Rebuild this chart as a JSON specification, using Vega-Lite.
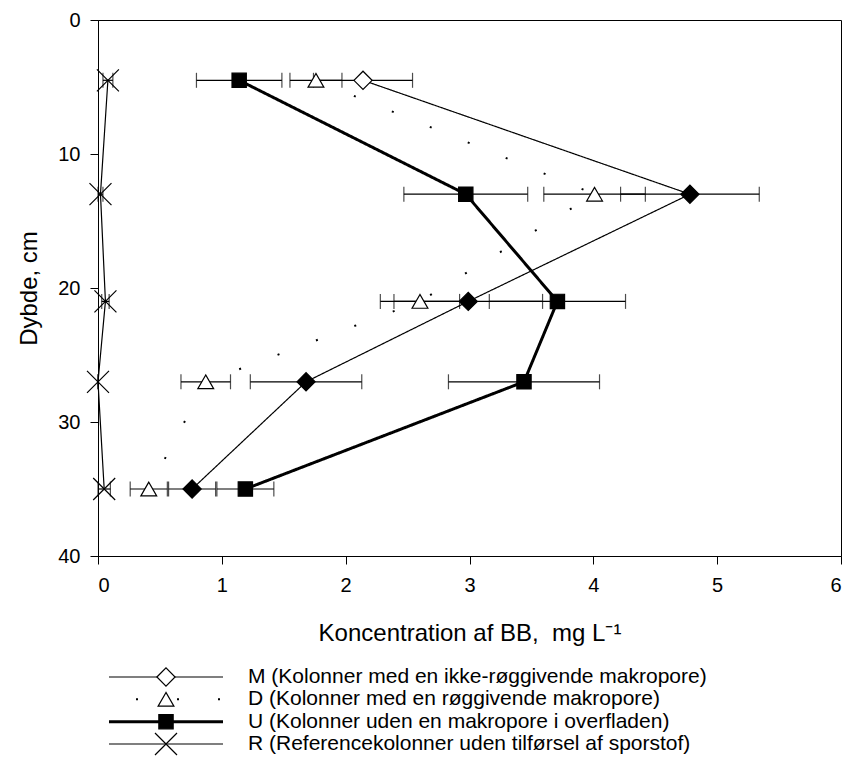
{
  "$schema": "https://vega.github.io/schema/vega-lite/v6.json",
  "padding": {"left": 17, "top": 9, "right": 0, "bottom": 0},
  "background": "white",
  "config": {
    "font": "Liberation Sans",
    "view": {"stroke": null},
    "axis": {"grid": false, "domainColor": "black", "tickColor": "black", "labelColor": "black", "titleColor": "black", "tickSize": 8, "labelFont": "Liberation Sans", "labelFontSize": 20, "titleFont": "Liberation Sans", "titleFontSize": 24, "titleFontWeight": "normal", "domainWidth": 1, "tickWidth": 1}
  },
  "datasets": {
    "obs": [
      {"series": "M", "depth": 4.5, "value": 2.14, "err": 0.40},
      {"series": "M", "depth": 13, "value": 4.78, "err": 0.56},
      {"series": "M", "depth": 21, "value": 2.99, "err": 0.60},
      {"series": "M", "depth": 27, "value": 1.68, "err": 0.45},
      {"series": "M", "depth": 35, "value": 0.76, "err": 0.19},
      {"series": "D", "depth": 4.5, "value": 1.76, "err": 0.21},
      {"series": "D", "depth": 13, "value": 4.01, "err": 0.41},
      {"series": "D", "depth": 21, "value": 2.60, "err": 0.32},
      {"series": "D", "depth": 27, "value": 0.87, "err": 0.20},
      {"series": "D", "depth": 35, "value": 0.41, "err": 0.15},
      {"series": "U", "depth": 4.5, "value": 1.14, "err": 0.345},
      {"series": "U", "depth": 13, "value": 2.97, "err": 0.50},
      {"series": "U", "depth": 21, "value": 3.71, "err": 0.55},
      {"series": "U", "depth": 27, "value": 3.44, "err": 0.61},
      {"series": "U", "depth": 35, "value": 1.19, "err": 0.23},
      {"series": "R", "depth": 4.5, "value": 0.08, "err": 0.04},
      {"series": "R", "depth": 13, "value": 0.02, "err": 0.02},
      {"series": "R", "depth": 21, "value": 0.06, "err": 0.03},
      {"series": "R", "depth": 27, "value": 0.0, "err": 0.0},
      {"series": "R", "depth": 35, "value": 0.05, "err": 0.05}
    ],
    "legend": [
      {"series": "M", "label": "M (Kolonner med en ikke-røggivende makropore)"},
      {"series": "D", "label": "D (Kolonner med en røggivende makropore)"},
      {"series": "U", "label": "U (Kolonner uden en makropore i overfladen)"},
      {"series": "R", "label": "R (Referencekolonner uden tilførsel af sporstof)"}
    ]
  },
  "spacing": 19,
  "vconcat": [
    {
      "width": 743,
      "height": 536,
      "view": {"stroke": "black", "strokeWidth": 1},
      "data": {"name": "obs"},
      "encoding": {
        "x": {"field": "value", "type": "quantitative", "scale": {"domain": [0, 6], "nice": false, "zero": false}, "axis": {"values": [0, 1, 2, 3, 4, 5, 6], "title": "Koncentration af BB,\u00a0 mg L⁻¹", "labelPadding": 11, "titlePadding": 26}},
        "y": {"field": "depth", "type": "quantitative", "scale": {"domain": [0, 40], "reverse": true, "nice": false, "zero": false}, "axis": {"values": [0, 10, 20, 30, 40], "title": "Dybde, cm", "labelPadding": 10, "titlePadding": 16}}
      },
      "layer": [
        {
          "mark": {"type": "errorbar", "color": "black", "thickness": 1.2, "ticks": {"size": 15, "thickness": 1.2, "color": "black"}},
          "encoding": {"xError": {"field": "err"}}
        },
        {
          "mark": {"type": "line", "color": "black", "strokeCap": "butt"},
          "encoding": {
            "detail": {"field": "series", "type": "nominal"},
            "order": {"field": "depth", "type": "quantitative"},
            "strokeWidth": {"field": "series", "type": "nominal", "scale": {"type": "ordinal", "domain": ["M", "D", "U", "R"], "range": [1.2, 2, 3, 1.2]}, "legend": null},
            "strokeDash": {"field": "series", "type": "nominal", "scale": {"domain": ["M", "D", "U", "R"], "range": [[1, 0], [2, 39], [1, 0], [1, 0]]}, "legend": null}
          }
        },
        {
          "mark": {"type": "point", "stroke": "black", "strokeWidth": 1.2, "opacity": 1},
          "encoding": {
            "shape": {"field": "series", "type": "nominal", "scale": {"domain": ["M", "D", "U", "R"], "range": ["diamond", "triangle-up", "square", "M-1,-1L1,1M-1,1L1,-1"]}, "legend": null},
            "size": {"field": "series", "type": "nominal", "scale": {"type": "ordinal", "domain": ["M", "D", "U", "R"], "range": [330, 250, 205, 484]}, "legend": null},
            "fill": {"condition": [{"test": "datum.series === 'U' || (datum.series === 'M' && datum.depth > 5)", "value": "black"}, {"test": "datum.series === 'R'", "value": "transparent"}], "value": "white"}
          }
        }
      ]
    },
    {
      "width": 800,
      "height": 67,
      "data": {"name": "legend"},
      "encoding": {
        "y": {"field": "series", "type": "nominal", "sort": ["M", "D", "U", "R"], "scale": {"type": "point", "padding": 0}, "axis": null}
      },
      "layer": [
        {
          "mark": {"type": "rule", "color": "black", "strokeCap": "butt", "strokeDashOffset": 14},
          "encoding": {
            "x": {"datum": 11, "type": "quantitative", "scale": {"domain": [0, 800], "nice": false, "zero": false}, "axis": null},
            "x2": {"datum": 125},
            "strokeWidth": {"field": "series", "type": "nominal", "scale": {"type": "ordinal", "domain": ["M", "D", "U", "R"], "range": [1.2, 2, 3, 1.2]}, "legend": null},
            "strokeDash": {"field": "series", "type": "nominal", "scale": {"domain": ["M", "D", "U", "R"], "range": [[1, 0], [2, 39], [1, 0], [1, 0]]}, "legend": null}
          }
        },
        {
          "mark": {"type": "point", "stroke": "black", "strokeWidth": 1.2, "opacity": 1},
          "encoding": {
            "x": {"datum": 68, "type": "quantitative"},
            "shape": {"field": "series", "type": "nominal", "scale": {"domain": ["M", "D", "U", "R"], "range": ["diamond", "triangle-up", "square", "M-1,-1L1,1M-1,1L1,-1"]}, "legend": null},
            "size": {"field": "series", "type": "nominal", "scale": {"type": "ordinal", "domain": ["M", "D", "U", "R"], "range": [330, 250, 205, 484]}, "legend": null},
            "fill": {"condition": [{"test": "datum.series === 'U'", "value": "black"}, {"test": "datum.series === 'R'", "value": "transparent"}], "value": "white"}
          }
        },
        {
          "mark": {"type": "text", "align": "left", "baseline": "middle", "fontSize": 21, "color": "black", "font": "Liberation Sans"},
          "encoding": {
            "x": {"datum": 150, "type": "quantitative"},
            "text": {"field": "label", "type": "nominal"}
          }
        }
      ]
    }
  ]
}
